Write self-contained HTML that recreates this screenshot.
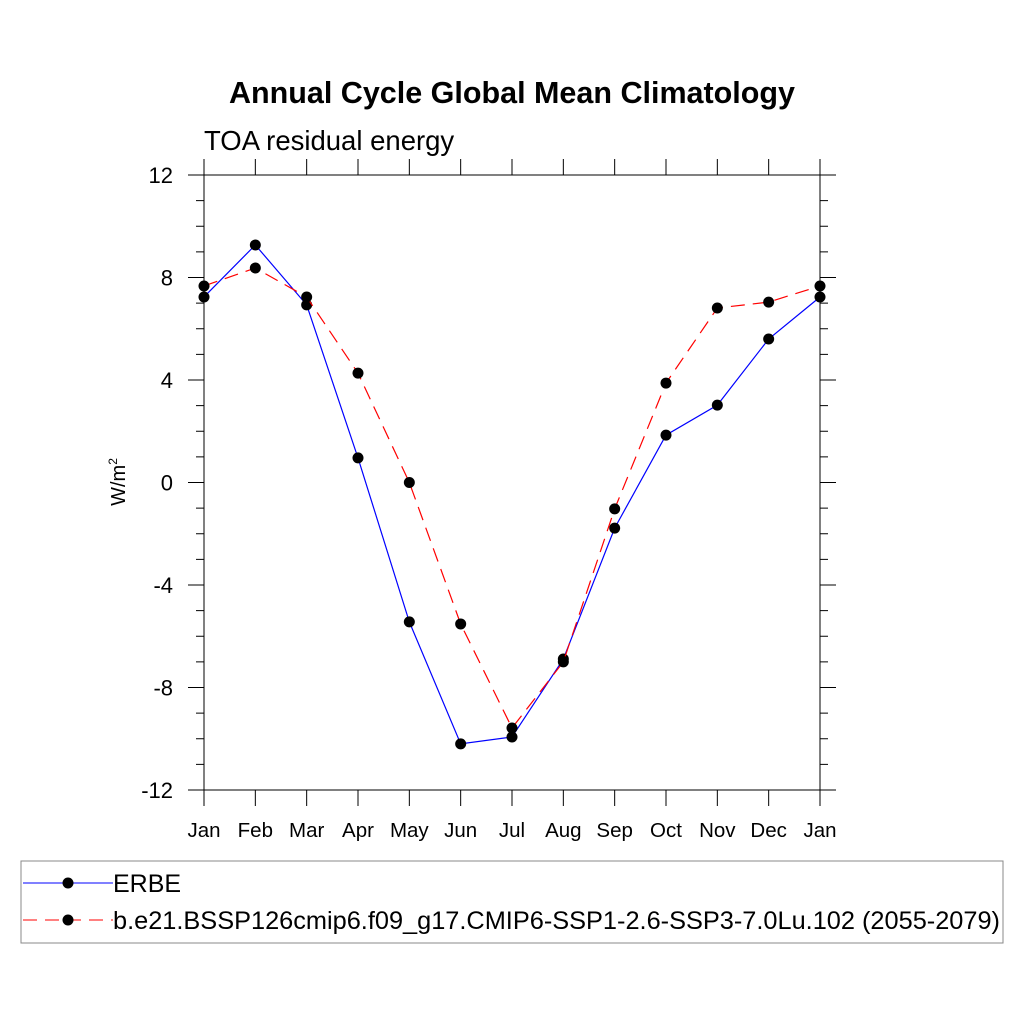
<!DOCTYPE html>
<html><head><meta charset="utf-8"><style>
body{margin:0;background:#fff}
svg text{font-family:"Liberation Sans",sans-serif}
</style></head><body>
<svg id="c" width="1024" height="1024" viewBox="0 0 1024 1024">
<text x="512" y="103" text-anchor="middle" font-size="30.5" font-weight="bold">Annual Cycle Global Mean Climatology</text>
<text x="204" y="150" font-size="27.5">TOA residual energy</text>
<text transform="translate(125,482) rotate(-90)" text-anchor="middle" font-size="20">W/m<tspan dy="-8" font-size="12">2</tspan></text>
<g id="axes"></g>
<g id="series"></g>
<g>
<rect x="21" y="861" width="982" height="82" fill="none" stroke="#888" stroke-width="1"/>
<g>
<line x1="23" y1="883" x2="113" y2="883" stroke="#0000ff" stroke-width="1"/>
<circle cx="68" cy="883" r="5.5" fill="#000"/>
<text x="113" y="892" font-size="25">ERBE</text></g>
<g>
<line x1="23" y1="920" x2="113" y2="920" stroke="#ff0000" stroke-width="1" stroke-dasharray="14,8"/>
<circle cx="68" cy="920" r="5.5" fill="#000"/>
<text x="113" y="929" font-size="25" textLength="887" lengthAdjust="spacingAndGlyphs">b.e21.BSSP126cmip6.f09_g17.CMIP6-SSP1-2.6-SSP3-7.0Lu.102 (2055-2079)</text></g>
</g>
</svg>
<script>
const months=["Jan","Feb","Mar","Apr","May","Jun","Jul","Aug","Sep","Oct","Nov","Dec","Jan"];
const erbe=[7.24,9.27,6.93,0.96,-5.44,-10.2,-9.93,-6.89,-1.78,1.85,3.02,5.6,7.24];
const model=[7.67,8.37,7.24,4.27,0.0,-5.52,-9.58,-7.0,-1.03,3.88,6.81,7.04,7.67];
const yTicks=[-12,-8,-4,0,4,8,12];
const yTickLabels=["-12","-8","-4","0","4","8","12"];
const X0=204,X1=820,Y0=790,Y1=175,ymin=-12,ymax=12;
const xs=i=>X0+(X1-X0)*i/(months.length-1);
const ys=v=>Y0-(v-ymin)/(ymax-ymin)*(Y0-Y1);
const NS="http://www.w3.org/2000/svg";
function mk(t,a,p){const e=document.createElementNS(NS,t);for(const k in a)e.setAttribute(k,a[k]);p.appendChild(e);return e;}
const ax=document.getElementById('axes'),se=document.getElementById('series');
const fr=mk('rect',{x:X0,y:Y1,width:X1-X0,height:Y0-Y1,fill:'none',stroke:'#000','stroke-width':1},ax);


for(let v=ymin;v<=ymax;v++){
  const maj=v%4===0,y=ys(v),L=maj?16:8;
  mk('line',{x1:X0-L,y1:y,x2:X0,y2:y,stroke:'#000','stroke-width':1},ax);
  mk('line',{x1:X1,y1:y,x2:X1+L,y2:y,stroke:'#000','stroke-width':1},ax);
}
yTicks.forEach((v,i)=>{
  const t=mk('text',{x:173,y:ys(v)+8,'text-anchor':'end','font-size':22},ax);
  t.textContent=yTickLabels[i];
  
  
});
months.forEach((m,i)=>{
  const x=xs(i);
  mk('line',{x1:x,y1:Y0,x2:x,y2:Y0+16,stroke:'#000','stroke-width':1},ax);
  mk('line',{x1:x,y1:Y1-16,x2:x,y2:Y1,stroke:'#000','stroke-width':1},ax);
  const t=mk('text',{x:x,y:837,'text-anchor':'middle','font-size':20.5},ax);
  t.textContent=m;
  
  
});
function draw(vals,color,dash,name){
  const g=mk('g',{},se);
  
  
  const pl=mk('polyline',{points:vals.map((v,i)=>xs(i)+','+ys(v)).join(' '),fill:'none',stroke:color,'stroke-width':1.2},g);
  if(dash)pl.setAttribute('stroke-dasharray','14,8');
  vals.forEach((v,i)=>{
    const c=mk('circle',{cx:xs(i),cy:ys(v),r:5.5,fill:'#000'},g);
    
    
  });
}
draw(erbe,'#0000ff',false,'series-erbe');
draw(model,'#ff0000',true,'series-model');
</script>
</body></html>
